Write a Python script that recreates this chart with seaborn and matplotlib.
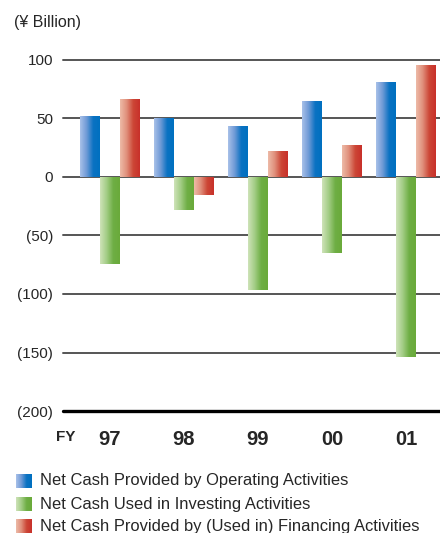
import numpy as np
import pandas as pd
import matplotlib
matplotlib.use("Agg")
import matplotlib.pyplot as plt
from matplotlib.colors import LinearSegmentedColormap
import seaborn as sns

# datos del grafico (miles de millones de yenes)
years = ["97", "98", "99", "00", "01"]
series = [
    "Net Cash Provided by Operating Activities",
    "Net Cash Used in Investing Activities",
    "Net Cash Provided by (Used in) Financing Activities",
]
operating = [52, 50, 44, 65, 81]
investing = [-74, -28, -97, -65, -154]
financing = [67, -15, 22, 27, 96]
y_ticks = [100, 50, 0, -50, -100, -150, -200]
y_labels = ["100", "50", "0", "(50)", "(100)", "(150)", "(200)"]

# colores del degradado (izquierda claro -> derecha saturado)
grads = {
    series[0]: ["#a9c1e9", "#6f9ad6", "#0a72c2", "#0070c0"],
    series[1]: ["#cfe3b9", "#a3cd86", "#6eae44", "#6aaa3a"],
    series[2]: ["#edbba8", "#e0907c", "#cc4636", "#c8302a"],
}

df = pd.DataFrame({
    "year": years * 3,
    "serie": [series[0]] * 5 + [series[1]] * 5 + [series[2]] * 5,
    "valor": operating + investing + financing,
})

sns.set_style("white")
plt.rcParams["font.family"] = ["Liberation Sans", "DejaVu Sans"]

fig = plt.figure(figsize=(4.4, 5.33), dpi=100)
ax = fig.add_axes([63 / 440, 1 - 411 / 533, 1 - 63 / 440, (411 - 60) / 533])

sns.barplot(data=df, x="year", y="valor", hue="serie", order=years,
            hue_order=series, palette=[g[-1] for g in grads.values()],
            width=0.81, gap=0, legend=False, ax=ax, errorbar=None)

# lineas horizontales
for v in y_ticks:
    if v == -200:
        ax.axhline(v, color="black", lw=2.4, zorder=0, clip_on=False)
    else:
        ax.axhline(v, color="#555555", lw=1.4, zorder=0, clip_on=False)

# degradado dentro de cada barra
grad = np.linspace(0, 1, 256).reshape(1, -1)
for cont, s in zip(ax.containers, series):
    cmap = LinearSegmentedColormap.from_list(s, grads[s])
    for p in cont.patches:
        x0, w = p.get_x(), p.get_width()
        y0, h = p.get_y(), p.get_height()
        p.set_facecolor("none")
        p.set_edgecolor("none")
        im = ax.imshow(grad, cmap=cmap, aspect="auto",
                       extent=(x0, x0 + w, min(y0, y0 + h), max(y0, y0 + h)),
                       zorder=2, interpolation="bilinear")
        im.set_clip_path(p)

ax.set_xlim(-0.635, 4.46)
ax.set_ylim(-200, 100)
ax.set_yticks(y_ticks)
ax.set_yticklabels(y_labels, fontsize=11)
ax.set_xticks(range(len(years)))
ax.set_xticklabels(years, fontsize=14.5, fontweight="bold")
ax.tick_params(axis="both", length=0)
ax.tick_params(axis="y", pad=7)
ax.tick_params(axis="x", pad=14)
ax.set_xlabel("")
ax.set_ylabel("")
for sp in ax.spines.values():
    sp.set_visible(False)

fig.text(14 / 440, 1 - 22 / 533, "(¥ Billion)", fontsize=11.5, va="center")
fig.text(66 / 440, 1 - 437 / 533, "FY", fontsize=11, fontweight="bold",
         va="center", ha="center")

# leyenda manual con cuadros degradados
rows_y = [481, 504, 526]
for s, yc in zip(series, rows_y):
    lax = fig.add_axes([16 / 440, 1 - (yc + 7.5) / 533, 15 / 440, 15 / 533])
    lax.imshow(grad, cmap=LinearSegmentedColormap.from_list(s, grads[s]),
               aspect="auto", interpolation="bilinear")
    lax.axis("off")
    fig.text(40 / 440, 1 - yc / 533, s, fontsize=11.9, va="center")

plt.savefig("out.png", dpi=100)
